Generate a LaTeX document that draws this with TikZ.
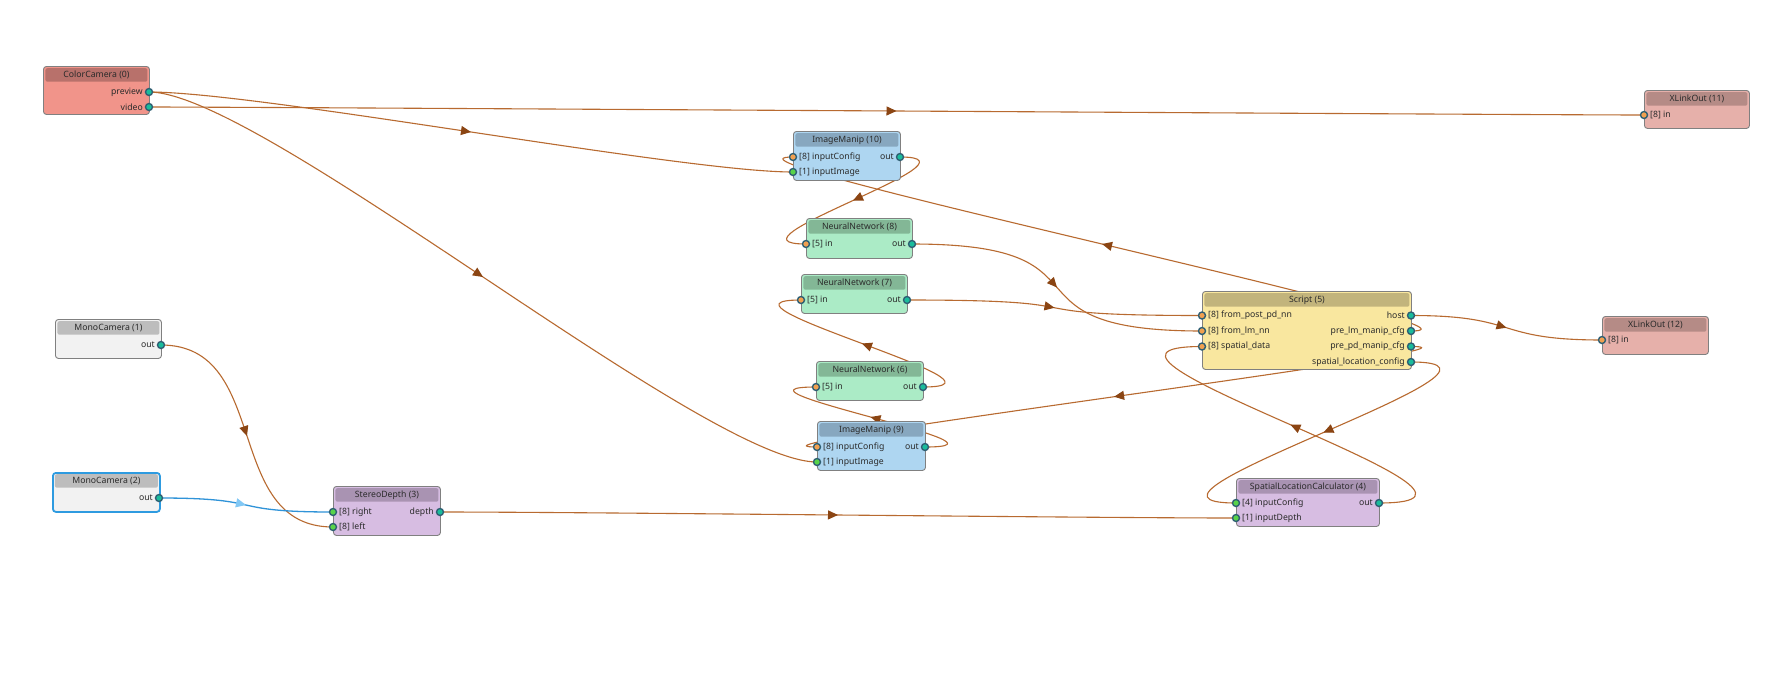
\documentclass[tikz,border=0pt]{standalone}
\usepackage{fontspec}
\setmainfont{Noto Sans}
\usetikzlibrary{arrows.meta,decorations.markings}
\pgfdeclarelayer{bg}
\pgfsetlayers{bg,main}
\definecolor{ccbody}{HTML}{F1948A}\definecolor{cctitle}{HTML}{B8716B}
\definecolor{imbody}{HTML}{AED6F1}\definecolor{imtitle}{HTML}{87A7BF}
\definecolor{nnbody}{HTML}{ABEBC6}\definecolor{nntitle}{HTML}{83B796}
\definecolor{scbody}{HTML}{F9E79F}\definecolor{sctitle}{HTML}{C2B47C}
\definecolor{pubody}{HTML}{D7BDE2}\definecolor{putitle}{HTML}{A993B2}
\definecolor{mobody}{HTML}{F2F2F2}\definecolor{motitle}{HTML}{BDBDBD}
\definecolor{xlbody}{HTML}{E6B0AA}\definecolor{xltitle}{HTML}{B58B86}
\definecolor{boxborder}{HTML}{808080}
\definecolor{selborder}{HTML}{2E9BE0}
\definecolor{txt}{HTML}{2B2B2B}
\definecolor{portring}{HTML}{2F5F73}
\definecolor{portout}{HTML}{1ABC9C}
\definecolor{portq}{HTML}{F0A050}
\definecolor{portb}{HTML}{58D34A}
\definecolor{edgecol}{HTML}{B86A30}
\definecolor{arrowcol}{HTML}{8B4513}
\definecolor{bluecol}{HTML}{2F93D8}
\definecolor{bluearrow}{HTML}{82C8F5}
\tikzset{
  gbox/.style={draw=boxborder, line width=0.9pt, rounded corners=3pt, inner sep=0pt},
  gtitle/.style={rounded corners=2pt, inner sep=0pt, minimum height=13.5pt, font=\fontsize{8.7}{10}\selectfont, text=txt},
  portc/.style={circle, draw=portring, line width=1.4pt, minimum size=7pt, inner sep=0pt},
  plabel/.style={inner sep=0pt, font=\fontsize{8.7}{10}\selectfont, text=txt},
  pipe/.style={draw=edgecol, line width=1.1pt, postaction={decorate},
    decoration={markings, mark=at position 0.5 with {\arrow{Triangle[length=10pt,width=9pt,color=arrowcol]}}}},
  bluepipe/.style={draw=bluecol, line width=1.3pt, postaction={decorate},
    decoration={markings, mark=at position 0.5 with {\arrow{Triangle[length=10pt,width=9pt,color=bluearrow]}}}}
}
\newcommand{\gnode}[9]{%
  \node[gbox, fill=#6, minimum width=#4pt, minimum height=#5pt, anchor=north west, #9] (#1) at (#2,#3) {};
  \node[gtitle, fill=#7, minimum width=#4pt-4pt, anchor=north] (#1-t) at ([yshift=-2pt]#1.north) {#8};}
\newcommand{\inport}[5]{%
  \node[portc, fill=#4] (#1) at (#2,#3) {};
  \node[plabel, anchor=west] (#1-l) at ([xshift=6pt]#1.center) {#5};}
\newcommand{\outport}[4]{%
  \node[portc, fill=portout] (#1) at (#2,#3) {};
  \node[plabel, anchor=east] (#1-l) at ([xshift=-6pt]#1.center) {#4};}
\begin{document}
\begin{tikzpicture}[x=1pt,y=-1pt]
\useasboundingbox (0,0) rectangle (1772,683);
% nodes
\gnode{cc}{43}{66}{106}{48}{ccbody}{cctitle}{ColorCamera (0)}{}
\outport{cc-preview}{149}{92}{preview}
\outport{cc-video}{149}{107}{video}

\gnode{mc1}{55}{319}{106}{39}{mobody}{motitle}{MonoCamera (1)}{}
\outport{mc1-out}{161}{345}{out}

\gnode{mc2}{52}{472}{107}{39}{mobody}{motitle}{MonoCamera (2)}{draw=selborder, line width=1.8pt}
\outport{mc2-out}{159}{498}{out}

\gnode{sd}{333}{486}{107}{49}{pubody}{putitle}{StereoDepth (3)}{}
\inport{sd-right}{333}{512}{portb}{[8] right}
\inport{sd-left}{333}{527}{portb}{[8] left}
\outport{sd-depth}{440}{512}{depth}

\gnode{im10}{793}{131}{107}{49}{imbody}{imtitle}{ImageManip (10)}{}
\inport{im10-cfg}{793}{157}{portq}{[8] inputConfig}
\inport{im10-img}{793}{172}{portb}{[1] inputImage}
\outport{im10-out}{900}{157}{out}

\gnode{nn8}{806}{218}{106}{40}{nnbody}{nntitle}{NeuralNetwork (8)}{}
\inport{nn8-in}{806}{244}{portq}{[5] in}
\outport{nn8-out}{912}{244}{out}

\gnode{nn7}{801}{274}{106}{39}{nnbody}{nntitle}{NeuralNetwork (7)}{}
\inport{nn7-in}{801}{300}{portq}{[5] in}
\outport{nn7-out}{907}{300}{out}

\gnode{nn6}{816}{361}{107}{39}{nnbody}{nntitle}{NeuralNetwork (6)}{}
\inport{nn6-in}{816}{387}{portq}{[5] in}
\outport{nn6-out}{923}{387}{out}

\gnode{im9}{817}{421}{108}{49}{imbody}{imtitle}{ImageManip (9)}{}
\inport{im9-cfg}{817}{447}{portq}{[8] inputConfig}
\inport{im9-img}{817}{462}{portb}{[1] inputImage}
\outport{im9-out}{925}{447}{out}

\gnode{sc}{1202}{291}{209}{78}{scbody}{sctitle}{Script (5)}{}
\inport{sc-post}{1202}{315.5}{portq}{[8] from\_post\_pd\_nn}
\inport{sc-lm}{1202}{331}{portq}{[8] from\_lm\_nn}
\inport{sc-spatial}{1202}{346.5}{portq}{[8] spatial\_data}
\outport{sc-host}{1411}{315.5}{host}
\outport{sc-lmcfg}{1411}{331}{pre\_lm\_manip\_cfg}
\outport{sc-pdcfg}{1411}{346.5}{pre\_pd\_manip\_cfg}
\outport{sc-slc}{1411}{362}{spatial\_location\_config}

\gnode{slc}{1236}{478}{143}{48}{pubody}{putitle}{SpatialLocationCalculator (4)}{}
\inport{slc-cfg}{1236}{503}{portb}{[4] inputConfig}
\inport{slc-depth}{1236}{518}{portb}{[1] inputDepth}
\outport{slc-out}{1379}{503}{out}

\gnode{xl11}{1644}{90}{105}{38}{xlbody}{xltitle}{XLinkOut (11)}{}
\inport{xl11-in}{1644}{115}{portq}{[8] in}

\gnode{xl12}{1602}{316}{106}{38}{xlbody}{xltitle}{XLinkOut (12)}{}
\inport{xl12-in}{1602}{340}{portq}{[8] in}

% pipes
\begin{pgfonlayer}{bg}
\fill[white] (0,0) rectangle (1772,683);
\draw[pipe] (cc-preview.center) .. controls +(111,0) and +(-111,0) .. (im10-img.center);
\draw[pipe] (cc-video.center) .. controls +(109,0) and +(-109,0) .. (xl11-in.center);
\draw[pipe] (cc-preview.center) .. controls +(112,0) and +(-112,0) .. (im9-img.center);
\draw[pipe] (im10-out.center) .. controls +(94,0) and +(-94,0) .. (nn8-in.center);
\draw[pipe] (nn8-out.center) .. controls +(213,0) and +(-213,0) .. (sc-lm.center);
\draw[pipe] (nn7-out.center) .. controls +(213,0) and +(-213,0) .. (sc-post.center);
\draw[pipe] (nn6-out.center) .. controls +(110,0) and +(-110,0) .. (nn7-in.center);
\draw[pipe] (im9-out.center) .. controls +(109,0) and +(-109,0) .. (nn6-in.center);
\draw[pipe] (sc-lmcfg.center) .. controls +(111,0) and +(-111,0) .. (im10-cfg.center);
\draw[pipe] (sc-pdcfg.center) .. controls +(112,0) and +(-112,0) .. (im9-cfg.center);
\draw[pipe] (sc-host.center) .. controls +(110,0) and +(-110,0) .. (xl12-in.center);
\draw[pipe] (sc-slc.center) .. controls +(147,0) and +(-147,0) .. (slc-cfg.center);
\draw[pipe] (slc-out.center) .. controls +(177,0) and +(-177,0) .. (sc-spatial.center);
\draw[pipe] (sd-depth.center) .. controls +(147,0) and +(-147,0) .. (slc-depth.center);
\draw[pipe] (mc1-out.center) .. controls +(111,0) and +(-111,0) .. (sd-left.center);
\draw[bluepipe] (mc2-out.center) .. controls +(111,0) and +(-111,0) .. (sd-right.center);
\end{pgfonlayer}
\end{tikzpicture}
\end{document}
